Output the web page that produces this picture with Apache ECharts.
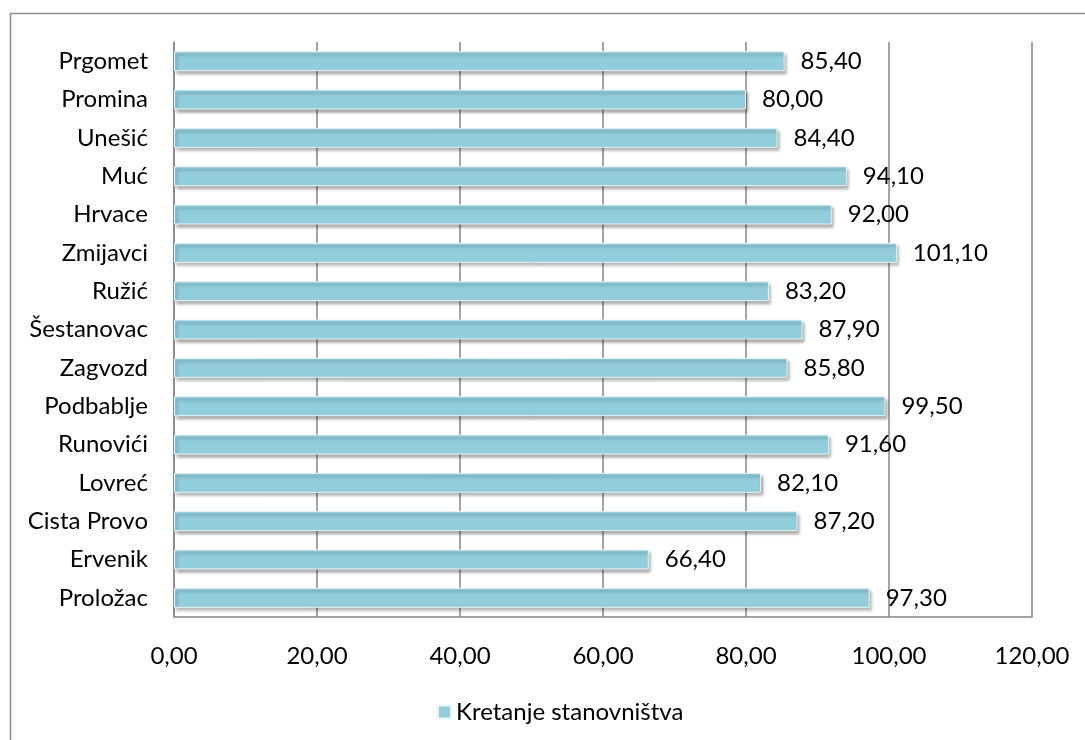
<!DOCTYPE html>
<html><head><meta charset="utf-8">
<script src="https://cdn.jsdelivr.net/npm/echarts@6/dist/echarts.min.js"></script>
<style>html,body{margin:0;padding:0;background:#fff}#c{width:1085px;height:740px}</style>
</head><body><div id="c"></div>
<script>
var categories = ["Prgomet","Promina","Unešić","Muć","Hrvace","Zmijavci","Ružić","Šestanovac","Zagvozd","Podbablje","Runovići","Lovreć","Cista Provo","Ervenik","Proložac"];
var values = [85.40,80.00,84.40,94.10,92.00,101.10,83.20,87.90,85.80,99.50,91.60,82.10,87.20,66.40,97.30];
var seriesName = "Kretanje stanovništva";
var fmt = function(v){ return Number(v).toFixed(2).replace('.', ','); };
var chart = echarts.init(document.getElementById('c'));
chart.setOption({
  animation:false,
  textStyle:{fontFamily:'Lato', color:'#000'},
  graphic:[{type:'rect', shape:{x:10.5,y:13.5,width:1200,height:1000}, style:{fill:'none', stroke:'#8c8c8c', lineWidth:1.5}, silent:true}],
  grid:{left:174, right:53, top:42, bottom:123},
  legend:{left:432, top:695, itemWidth:13, itemHeight:13, icon:'rect', itemGap:8,
    textStyle:{fontFamily:'Lato', fontSize:24, color:'#000'}, data:[seriesName]},
  xAxis:{type:'value', min:0, max:120, interval:20,
    axisLine:{show:true, lineStyle:{color:'#868686', width:1.5}},
    axisTick:{show:false},
    splitLine:{show:true, lineStyle:{color:'#868686', width:1.5}},
    axisLabel:{formatter:fmt, fontSize:24, color:'#000', margin:27, fontFamily:'Lato'}},
  yAxis:{type:'category', data:categories, inverse:true,
    axisLine:{show:true, lineStyle:{color:'#868686', width:1.5}},
    axisTick:{show:false},
    axisLabel:{fontSize:24, color:'#000', margin:26, fontFamily:'Lato'}},
  series:[{name:seriesName, type:'bar', data:values, barWidth:'52%',
    itemStyle:{color:'#92CDDC', borderColor:'#e8f4f7', borderWidth:1,
      shadowColor:'rgba(0,0,0,0.35)', shadowBlur:3, shadowOffsetX:2, shadowOffsetY:3},
    label:{show:true, position:'right', distance:16, formatter:function(p){return fmt(p.value);},
      fontSize:24, color:'#000', fontFamily:'Lato'}}]
});
</script></body></html>
